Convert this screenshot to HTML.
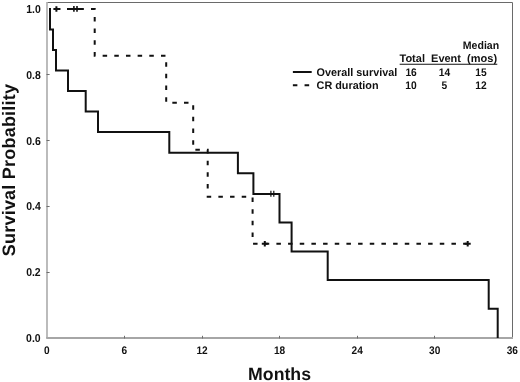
<!DOCTYPE html>
<html>
<head>
<meta charset="utf-8">
<title>Survival Probability</title>
<style>
html,body{margin:0;padding:0;background:#fff;}
body{width:520px;height:382px;overflow:hidden;font-family:"Liberation Sans",sans-serif;}
svg{display:block;will-change:transform;}
text{font-family:"Liberation Sans",sans-serif;font-weight:bold;fill:#111;text-rendering:geometricPrecision;}
.tk{font-size:11px;}
.lg{font-size:11px;}
.ax{font-size:18px;}
</style>
</head>
<body>
<svg width="520" height="382" viewBox="0 0 520 382">
<rect x="0" y="0" width="520" height="382" fill="#fff"/>
<!-- frame -->
<path d="M47,2.5 H512.5 V338" fill="none" stroke="#6a6a6a" stroke-width="1"/>
<path d="M47,2 V338" fill="none" stroke="#b0b0b0" stroke-width="1.7"/>
<path d="M46.2,338 H513" fill="none" stroke="#a6a6a6" stroke-width="2"/>
<!-- x ticks -->
<g stroke="#6e6e6e" stroke-width="1" fill="none">
<path d="M124.5,335.8 V338.5 M202.5,335.8 V338.5 M279.5,335.8 V338.5 M357.5,335.8 V338.5 M434.5,335.8 V338.5"/>
<path d="M46.5,74.5 H49.6 M46.5,140.5 H49.6 M46.5,206.5 H49.6 M46.5,272.5 H49.6"/>
</g>
<!-- dashed CR duration -->
<path d="M50,9 H94.7 V55.7 H166.2 V102.7 H193.2 V149.7 H207.7 V196.7 H252.6 V243.7 H467.7" fill="none" stroke="#111" stroke-width="2" stroke-dasharray="4.5 7.17" stroke-dashoffset="5.7"/>
<!-- censor plus -->
<g fill="none" stroke="#111" stroke-width="2">
<path d="M53.4,9 h6 M56.4,6.2 v5.6"/>
<path d="M67,9 H83.2"/>
<path d="M73.9,6.1 v5.7 M77,6.1 v5.7" stroke-width="1.6"/>
<path d="M261.8,243.7 h6 M264.8,240.9 v5.6"/>
<path d="M464.7,243.7 h6 M467.7,240.9 v5.6"/>
</g>
<!-- solid overall survival -->
<path d="M50,8 V29.4 H53 V50 H56 V70.4 H68 V91 H85.7 V111.5 H98 V132.1 H169.3 V152.8 H237.9 V173.3 H253.4 V193.9 H279.5 V222.5 H291.6 V251.5 H327.7 V280 H488.7 V308.8 H497.7 V338" fill="none" stroke="#111" stroke-width="2" stroke-linejoin="miter"/>
<path d="M270.9,190.8 v6 M273.8,190.8 v6" fill="none" stroke="#111" stroke-width="1.2"/>
<g transform="rotate(0.02)">
<!-- y tick labels -->
<g class="tk" text-anchor="end" style="font-size:11.5px">
<text transform="translate(40.8,13) scale(0.91,1)">1.0</text>
<text transform="translate(40.8,78.8) scale(0.91,1)">0.8</text>
<text transform="translate(40.8,144.6) scale(0.91,1)">0.6</text>
<text transform="translate(40.8,210.4) scale(0.91,1)">0.4</text>
<text transform="translate(40.8,276.2) scale(0.91,1)">0.2</text>
<text transform="translate(40.8,342) scale(0.91,1)">0.0</text>
</g>
<!-- x tick labels -->
<g class="tk" text-anchor="middle">
<text transform="translate(47,354) scale(0.92,1)">0</text>
<text transform="translate(124.5,354) scale(0.92,1)">6</text>
<text transform="translate(202.2,354) scale(0.92,1)">12</text>
<text transform="translate(279.7,354) scale(0.92,1)">18</text>
<text transform="translate(357.3,354) scale(0.92,1)">24</text>
<text transform="translate(434.8,354) scale(0.92,1)">30</text>
<text transform="translate(512.4,354) scale(0.92,1)">36</text>
</g>
<!-- axis titles -->
<text class="ax" x="279.7" y="379.5" text-anchor="middle" style="font-size:17.7px">Months</text>
<text class="ax" transform="translate(15.3,170) rotate(-90)" text-anchor="middle" letter-spacing="0.22">Survival Probability</text>
<!-- legend -->
<path d="M292.9,71.9 H311.7" stroke="#111" stroke-width="2" fill="none"/>
<path d="M292.9,85.1 H297.4 M304.6,85.1 H309.2" stroke="#111" stroke-width="2" fill="none"/>
<g class="lg">
<text transform="translate(316.6,75.9) scale(0.985,1)">Overall survival</text>
<text transform="translate(316.6,89.1) scale(0.985,1)">CR duration</text>
<text transform="translate(481,48.6) scale(0.96,1)" text-anchor="middle">Median</text>
<text x="399.5" y="62.1" xml:space="preserve" style="white-space:pre">Total  Event  (mos)</text>
<text transform="translate(411.1,76) scale(0.93,1)" text-anchor="middle">16</text>
<text transform="translate(444.5,76) scale(0.93,1)" text-anchor="middle">14</text>
<text transform="translate(481,76) scale(0.93,1)" text-anchor="middle">15</text>
<text transform="translate(411.1,89.3) scale(0.93,1)" text-anchor="middle">10</text>
<text transform="translate(444.5,89.3) scale(0.93,1)" text-anchor="middle">5</text>
<text transform="translate(481,89.3) scale(0.93,1)" text-anchor="middle">12</text>
</g>
<path d="M399.7,64.2 H497.3" stroke="#111" stroke-width="1" fill="none"/>
</g>
</svg>
</body>
</html>
